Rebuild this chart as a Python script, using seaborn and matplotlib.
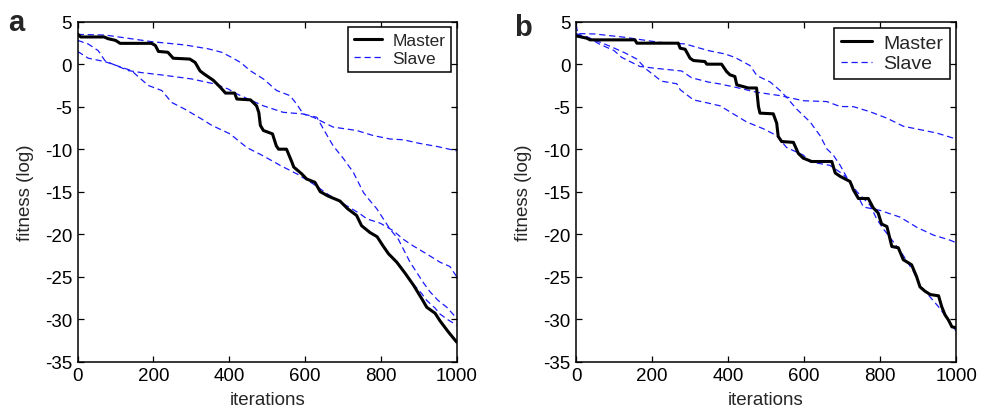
import numpy as np
import pandas as pd
import matplotlib
matplotlib.use("Agg")
import matplotlib.pyplot as plt
import seaborn as sns
from matplotlib.lines import Line2D

# ---------------- data: panel a ----------------
a_master_it = [0, 8, 70, 80, 100, 112, 195, 205, 213, 238, 252, 296, 310, 323, 335, 358, 376, 390,
               414, 420, 456, 472, 478, 482, 490, 514, 524, 530, 551, 565, 570, 591, 604, 626, 640,
               660, 692, 712, 736, 749, 771, 790, 806, 820, 842, 864, 886, 908, 921, 943, 956, 978, 1000]
a_master = [3.55, 3.2, 3.2, 3.0, 2.8, 2.45, 2.45, 2.2, 1.5, 1.4, 0.7, 0.6, 0.2, -0.8, -1.2, -1.9, -2.7, -3.4,
            -3.4, -4.1, -4.2, -4.9, -5.7, -7.2, -7.8, -8.2, -9.6, -10.0, -10.0, -11.5, -12.1, -12.9, -13.5, -13.9, -15.0,
            -15.5, -16.1, -17.0, -17.8, -19.0, -19.8, -20.3, -21.4, -22.3, -23.3, -24.6, -26.0, -27.6, -28.6, -29.3, -30.2, -31.5, -32.7]

a_s1_it = [0, 72, 195, 283, 345, 380, 406, 430, 455, 490, 525, 560, 578, 595, 631, 648, 674, 701, 727,
           754, 770, 789, 824, 846, 877, 912, 930, 951, 974, 1000]
a_s1 = [3.5, 3.43, 2.65, 2.26, 1.8, 1.4, 0.8, 0.2, -0.76, -1.74, -3.1, -3.7, -4.7, -5.86, -6.25, -7.6, -9.6, -11.1, -12.7,
        -15.1, -16.0, -17.0, -19.4, -20.6, -23.3, -25.7, -26.8, -27.8, -28.6, -29.9]

a_s2_it = [0, 28, 54, 72, 81, 134, 170, 222, 301, 362, 397, 420, 490, 542, 595, 622, 674, 736, 780, 824,
           860, 900, 950, 1000]
a_s2 = [2.8, 2.37, 1.6, 0.41, 0.22, -0.76, -1.0, -1.27, -1.74, -2.33, -2.92, -3.5, -4.9, -5.66, -5.86, -6.25,
        -7.4, -7.8, -8.4, -8.8, -8.9, -9.3, -9.7, -10.2]

a_s3_it = [0, 28, 72, 142, 186, 222, 248, 283, 327, 354, 402, 446, 490, 534, 578, 622, 660, 700, 745,
           763, 798, 833, 859, 886, 920, 956, 982, 1000]
a_s3 = [1.5, 0.7, 0.3, -0.76, -2.5, -3.1, -4.5, -5.3, -6.45, -7.2, -8.2, -9.8, -10.8, -11.9, -12.9, -14.1,
        -15.3, -16.4, -17.6, -18.2, -18.7, -19.6, -20.6, -21.4, -22.3, -23.3, -23.8, -25.0]

# fourth slave: hidden under the master trace, separating only near the end
a_s4_it = a_master_it
a_s4 = [3.55, 3.2, 3.2, 3.0, 2.8, 2.45, 2.45, 2.2, 1.5, 1.4, 0.7, 0.6, 0.2, -0.8, -1.2, -1.9, -2.7, -3.4,
        -3.4, -4.1, -4.2, -4.9, -5.7, -7.2, -7.8, -8.2, -9.6, -10.0, -10.0, -11.5, -12.1, -12.9, -13.5, -13.9, -15.0,
        -15.5, -16.1, -17.0, -17.8, -19.0, -19.8, -20.3, -21.4, -22.3, -23.3, -24.6, -25.9, -27.0, -27.8, -28.7, -29.4, -30.1, -30.7]

# ---------------- data: panel b ----------------
b_master_it = [0, 28, 37, 155, 160, 269, 274, 287, 300, 309, 339, 344, 383, 396, 405, 418, 423, 445, 453,
               475, 480, 484, 519, 528, 532, 541, 572, 585, 598, 620, 673, 682, 695, 721, 730, 743, 769,
               782, 795, 804, 818, 831, 848, 861, 883, 896, 905, 918, 932, 954, 962, 971, 980, 989, 1000]
b_master = [3.33, 3.06, 2.86, 2.86, 2.47, 2.47, 1.88, 1.76, 0.7, 0.43, 0.31, 0.0, 0.0, -0.86, -1.25, -1.45,
            -2.43, -2.7, -2.8, -2.8, -4.98, -5.76, -5.84, -6.94, -8.5, -9.1, -9.2, -10.5, -11.06, -11.45,
            -11.45, -12.8, -13.2, -13.8, -14.8, -15.8, -15.8, -16.9, -17.5, -18.8, -19.1, -21.45, -21.6,
            -23.0, -23.6, -24.98, -26.2, -26.7, -27.1, -27.25, -28.5, -29.5, -30.1, -30.9, -31.0]

b_s1_it = [0, 5, 50, 129, 217, 287, 348, 392, 418, 458, 476, 511, 537, 554, 580, 616, 642, 660, 677, 695,
           716, 739, 774, 791, 809, 835, 861, 888, 905, 930, 955, 975, 1000]
b_s1 = [4.6, 3.6, 3.55, 3.16, 2.58, 2.38, 1.6, 1.2, 0.8, -0.17, -1.35, -2.1, -3.1, -3.9, -5.26, -6.8, -8.4,
        -9.96, -10.7, -11.9, -13.6, -15.0, -16.6, -18.2, -19.4, -20.9, -22.5, -24.4, -26.0, -27.3, -28.6,
        -29.8, -31.4]

b_s2_it = [0, 30, 60, 100, 120, 168, 212, 278, 304, 348, 379, 418, 475, 537, 598, 660, 695, 730, 774,
           818, 861, 905, 949, 1000]
b_s2 = [3.5, 3.2, 2.4, 1.6, 0.8, -0.27, -0.5, -0.8, -1.6, -2.1, -2.33, -2.7, -3.3, -3.7, -4.3, -4.4, -4.98,
        -5.0, -5.6, -6.35, -7.3, -7.7, -8.1, -8.8]

b_s3_it = [0, 40, 90, 130, 160, 185, 225, 265, 274, 309, 350, 379, 414, 449, 493, 528, 554, 598, 616,
           668, 704, 725, 745, 756, 800, 853, 897, 940, 984, 1000]
b_s3 = [3.6, 3.0, 2.1, 1.3, 0.6, -0.6, -2.0, -2.3, -3.0, -4.2, -4.6, -4.9, -5.85, -6.8, -7.6, -8.4, -9.8,
        -10.7, -11.5, -11.9, -13.0, -14.2, -15.8, -16.8, -17.2, -18.0, -19.2, -20.1, -20.7, -21.0]

yticks = [-35, -30, -25, -20, -15, -10, -5, 0, 5]
xticks = [0, 200, 400, 600, 800, 1000]

# ---------------- style ----------------
sns.set_style("ticks")
plt.rcParams["font.family"] = ["Liberation Sans", "DejaVu Sans"]
plt.rcParams["axes.unicode_minus"] = False

fig = plt.figure(figsize=(9.83, 4.10), dpi=100)
ax_a = fig.add_axes([0.0790, 0.1154, 0.3856, 0.8293])
ax_b = fig.add_axes([0.5860, 0.1154, 0.3866, 0.8293])

DASH = (0, (5, 3))
BLUE = "#1a1aff"


def draw(ax, master_it, master, slaves, legend_fs):
    for it, vals in slaves:
        sns.lineplot(x=it, y=vals, ax=ax, color=BLUE, lw=0.9, linestyle=DASH,
                     estimator=None, sort=False, zorder=2)
    sns.lineplot(x=master_it, y=master, ax=ax, color="black", lw=2.2,
                 estimator=None, sort=False, zorder=3)
    ax.set_xlim(0, 1000)
    ax.set_ylim(-35, 5)
    ax.set_xticks(xticks)
    ax.set_yticks(yticks)
    ax.set_xticklabels([str(t) for t in xticks])
    ax.set_yticklabels([str(t) for t in yticks])
    ax.tick_params(direction="in", length=4.5, width=0.9, top=True, right=True,
                   labelsize=13.5, pad=4, colors="black")
    for s in ax.spines.values():
        s.set_visible(True)
        s.set_linewidth(1.1)
        s.set_color("black")
    ax.set_xlabel("iterations", fontsize=13.5, labelpad=5)
    ax.set_ylabel("fitness (log)", fontsize=13.5, labelpad=8)
    handles = [Line2D([], [], color="black", lw=2.2),
               Line2D([], [], color=BLUE, lw=0.9, linestyle=DASH)]
    leg = ax.legend(handles, ["Master", "Slave"], loc="upper right", fontsize=legend_fs,
                    frameon=True, fancybox=False, edgecolor="black", framealpha=1,
                    borderaxespad=0.3, handlelength=1.6, handletextpad=0.6,
                    borderpad=0.35, labelspacing=0.15)
    leg.get_frame().set_linewidth(1.1)


draw(ax_a, a_master_it, a_master,
     [(a_s1_it, a_s1), (a_s2_it, a_s2), (a_s3_it, a_s3), (a_s4_it, a_s4)], 12.5)
draw(ax_b, b_master_it, b_master,
     [(b_s1_it, b_s1), (b_s2_it, b_s2), (b_s3_it, b_s3)], 14)

fig.text(8 / 983, 1 - 31 / 410, "a", fontsize=21, fontweight="bold", ha="left", va="baseline")
fig.text(514 / 983, 1 - 36 / 410, "b", fontsize=21, fontweight="bold", ha="left", va="baseline")

fig.savefig("out.png", dpi=100)
